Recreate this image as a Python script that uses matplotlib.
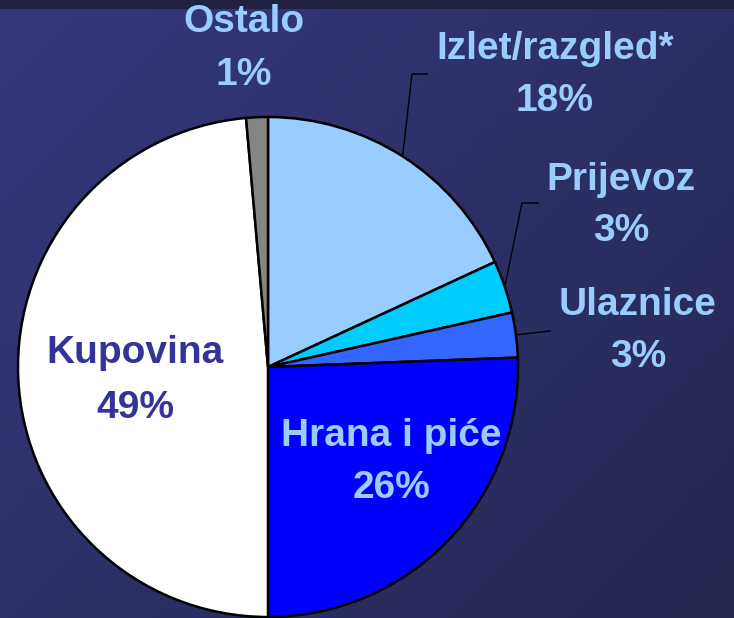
import numpy as np
import matplotlib.pyplot as plt

# shares (labels show rounded values)
categories = ["Izlet/razgled*", "Prijevoz", "Ulaznice", "Hrana i piće", "Kupovina", "Ostalo"]
shares = [18.1, 3.4, 2.9, 25.6, 48.6, 1.4]
colors = ["#99CCFF", "#00CCFF", "#3366FF", "#0000FF", "#FFFFFF", "#858585"]

W, H = 734, 618
CX, CY, R = 268, H - 367, 250

fig = plt.figure(figsize=(W / 100, H / 100), dpi=100)

# background gradient
bg = fig.add_axes([0, 0, 1, 1])
bg.set_axis_off()
yy, xx = np.mgrid[0:1:200j, 0:1:240j]
t = np.clip(0.55 * xx + 0.45 * yy, 0, 1)
c0 = np.array([0x35, 0x38, 0x7c]) / 255
c1 = np.array([0x25, 0x28, 0x52]) / 255
img = c0 * (1 - t[..., None]) + c1 * t[..., None]
img[:3] = np.array([0x1e, 0x21, 0x42]) / 255  # dark strip at the top
bg.imshow(img, extent=(0, 1, 0, 1), aspect="auto", origin="upper")

ax = fig.add_axes([0, 0, 1, 1])
ax.patch.set_alpha(0)
wedges, _ = ax.pie(shares, colors=colors, startangle=90, counterclock=False,
                   center=(CX, CY), radius=R,
                   wedgeprops=dict(edgecolor="black", linewidth=1.8))
ax.set_xlim(0, W)
ax.set_ylim(0, H)
ax.set_axis_off()

font = dict(family="Liberation Sans", fontweight="bold", fontsize=28,
            ha="center", va="center")
light = "#99CCFF"

# label positions (pixels from top-left) and colour
label_pos = {
    "Ostalo": (244, 22, 75, light),
    "Izlet/razgled*": (555, 49, 101, light),
    "Prijevoz": (621, 180, 231, light),
    "Ulaznice": (638, 305, 357, light),
    "Kupovina": (135, 353, 408, "#333399"),
    "Hrana i piće": (391, 436, 488, light),
}
for name, val in zip(categories, shares):
    x, y1, y2, col = label_pos[name]
    ax.text(x, H - y1, name, color=col, **font)
    ax.text(x, H - y2, f"{val:.0f}%", color=col, **font)

# leader lines from the wedge middle to the label
leaders = {
    "Izlet/razgled*": [(412, 74), (427, 74)],
    "Prijevoz": [(522, 203), (538, 203)],
    "Ulaznice": [(550, 331)],
}
for w, name in zip(wedges, categories):
    if name not in leaders:
        continue
    ang = np.deg2rad((w.theta1 + w.theta2) / 2)
    pts = [(CX + R * np.cos(ang), CY + R * np.sin(ang))]
    pts += [(px, H - py) for px, py in leaders[name]]
    xs, ys = zip(*pts)
    ax.plot(xs, ys, color="black", linewidth=1)

fig.savefig("out.png", dpi=100)
